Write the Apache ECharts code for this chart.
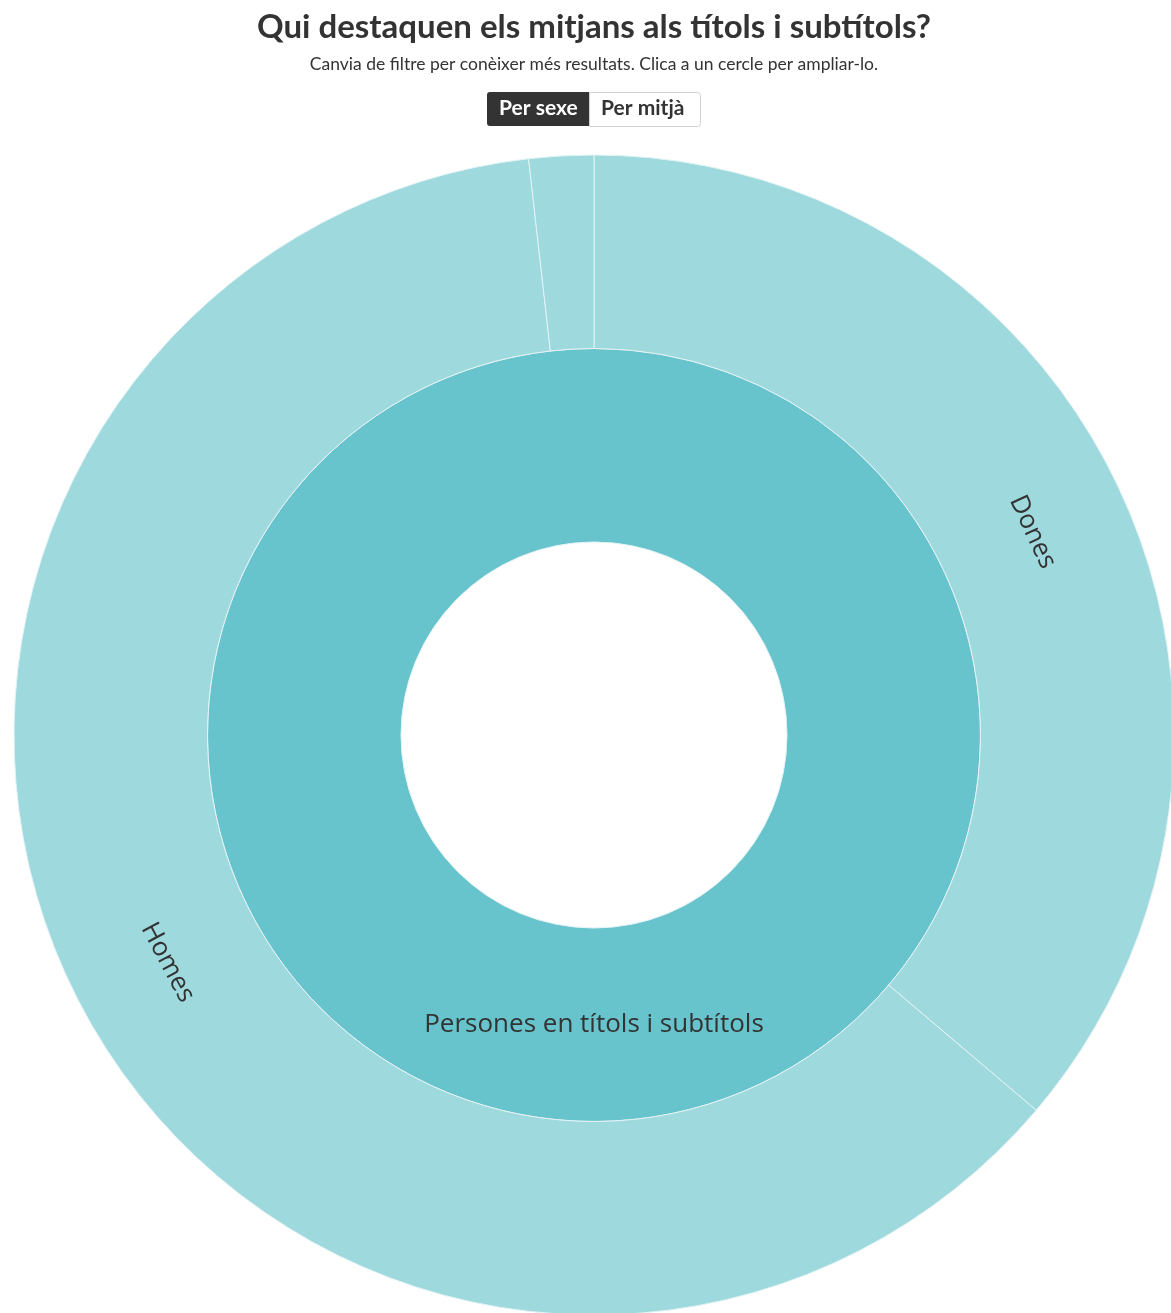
<!DOCTYPE html>
<html>
<head>
<meta charset="utf-8">
<script src="https://cdn.jsdelivr.net/npm/echarts@6/dist/echarts.min.js"></script>
<style>
html,body{margin:0;padding:0;background:#fff;}
#chart{width:1171px;height:1313px;}
</style>
</head>
<body>
<div id="chart"></div>
<script>
const titleText = 'Qui destaquen els mitjans als títols i subtítols?';
const subtitleText = 'Canvia de filtre per conèixer més resultats. Clica a un cercle per ampliar-lo.';
const buttonLabels = ['Per sexe', 'Per mitjà'];
const rootName = 'Persones en títols i subtítols';
const childNames = ['Dones', 'Homes', 'Altres'];
const childValues = [36.2, 62.0, 1.8];

const chart = echarts.init(document.getElementById('chart'), null, {renderer: 'canvas'});

const data = [{
  name: rootName,
  children: childNames.map((n, i) => ({name: n, value: childValues[i]}))
}];

chart.setOption({
  backgroundColor: '#fff',
  animation: false,
  graphic: [
    {type: 'text', x: 594, y: 27, style: {text: titleText, fill: '#333', font: 'bold 33px Lato', align: 'center', verticalAlign: 'middle'}},
    {type: 'text', x: 594, y: 64, style: {text: subtitleText, fill: '#333', font: '17.5px Lato', align: 'center', verticalAlign: 'middle'}},
    {type: 'rect', left: 487, top: 92, shape: {width: 102, height: 34, r: [3, 0, 0, 3]}, style: {fill: '#333'}},
    {type: 'text', left: 499, top: 98, style: {text: buttonLabels[0], fill: '#fff', font: 'bold 21px Lato'}},
    {type: 'rect', left: 589, top: 92, shape: {width: 111, height: 34, r: [0, 3, 3, 0]}, style: {fill: '#fff', stroke: '#d0d0d0', lineWidth: 1}},
    {type: 'text', left: 601, top: 98, style: {text: buttonLabels[1], fill: '#333', font: 'bold 21px Lato'}}
  ],
  series: [{
    type: 'sunburst',
    center: [594, 735],
    radius: [193, 580],
    sort: null,
    startAngle: 90,
    clockwise: true,
    nodeClick: false,
    emphasis: {focus: 'none'},
    data: data,
    label: {
      rotate: 'tangential',
      fontFamily: 'Open Sans',
      fontSize: 26,
      color: '#333',
      minAngle: 10
    },
    itemStyle: {borderColor: '#e4f3f5', borderWidth: 1},
    levels: [
      {},
      {itemStyle: {color: '#67C4CC'}},
      {itemStyle: {color: '#9ED9DE'}}
    ]
  }]
});
</script>
</body>
</html>
